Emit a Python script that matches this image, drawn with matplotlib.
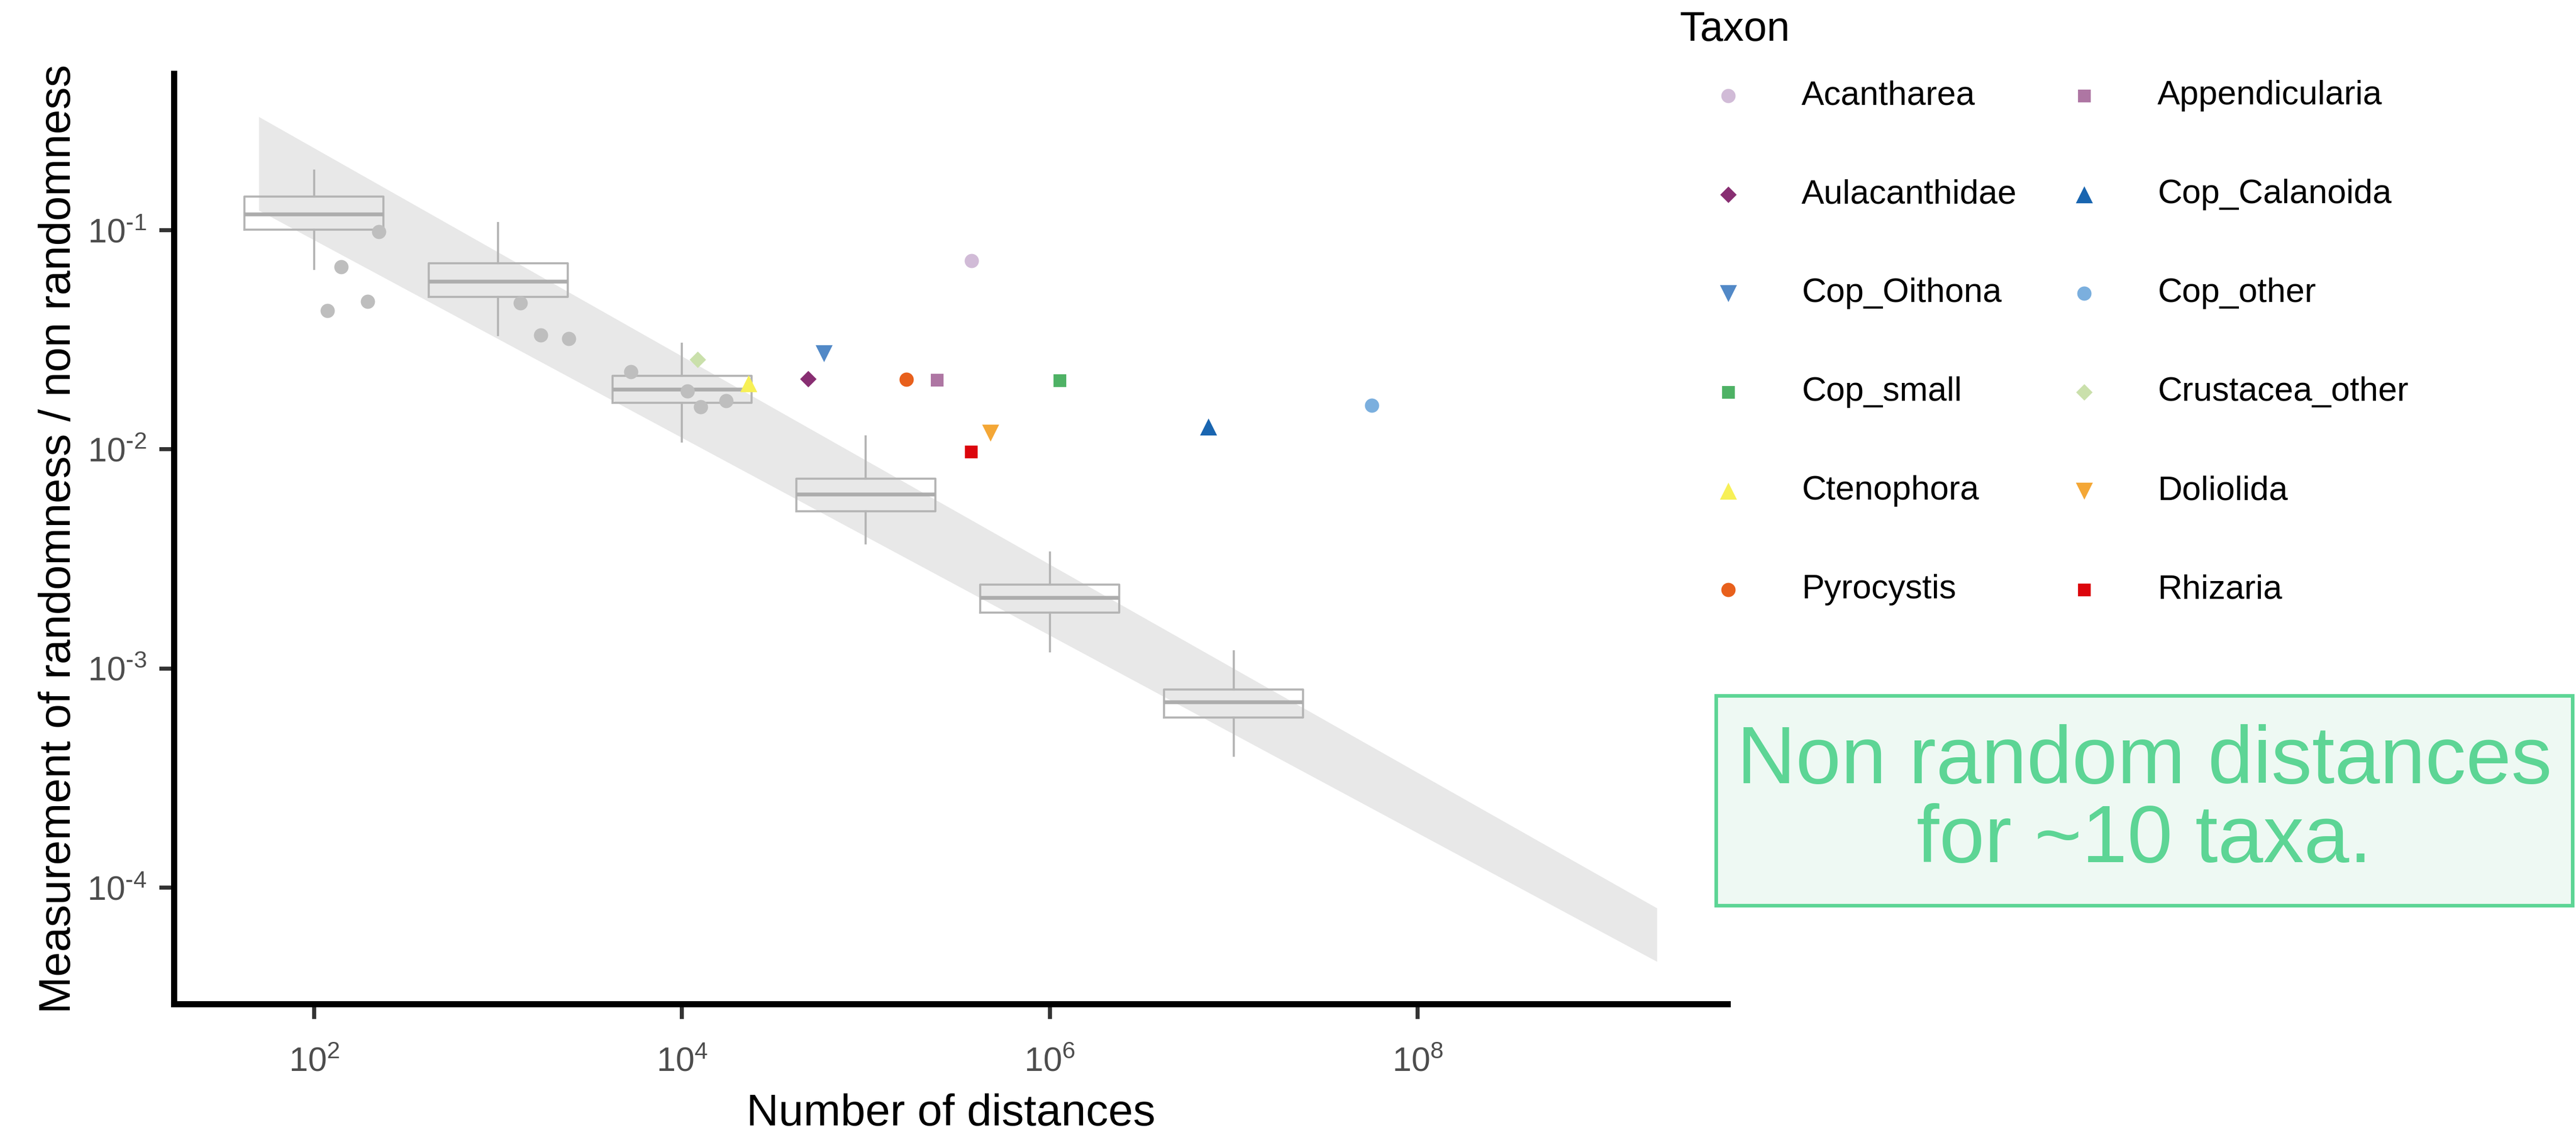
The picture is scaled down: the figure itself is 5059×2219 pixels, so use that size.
import matplotlib
matplotlib.use("Agg")

import matplotlib.pyplot as plt
import numpy as np
from matplotlib.patches import Rectangle
from matplotlib.ticker import FuncFormatter, NullLocator


# --------------------------------------------------
# FONTS
# --------------------------------------------------

plt.rcParams["font.family"] = ["Liberation Sans", "DejaVu Sans"]
plt.rcParams["axes.unicode_minus"] = False
plt.rcParams["mathtext.fontset"] = "custom"
plt.rcParams["mathtext.rm"] = "Liberation Sans"
plt.rcParams["mathtext.it"] = "Liberation Sans:italic"
plt.rcParams["mathtext.bf"] = "Liberation Sans:bold"


# --------------------------------------------------
# DATA
# --------------------------------------------------

taxa = [
    "Acantharea", "Appendicularia",
    "Aulacanthidae", "Cop_Calanoida",
    "Cop_Oithona", "Cop_other",
    "Cop_small", "Crustacea_other",
    "Ctenophora", "Doliolida",
    "Pyrocystis", "Rhizaria",
]
taxa_n = [
    3.75e5, 2.44e5,
    4.86e4, 7.28e6,
    5.9e4, 5.62e7,
    1.13e6, 1.22e4,
    2.30e4, 4.75e5,
    1.66e5, 3.72e5,
]
taxa_value = [
    0.0724, 0.0208,
    0.0210, 0.0127,
    0.0274, 0.0159,
    0.0206, 0.0257,
    0.0200, 0.0119,
    0.0209, 0.00977,
]
taxa_colours = [
    "#D1BBD7", "#AE76A3",
    "#882E72", "#1965B0",
    "#5289C7", "#7BAFDE",
    "#4EB265", "#CAE0AB",
    "#F7F056", "#F4A736",
    "#E8601C", "#DC050C",
]
taxa_markers = ["o", "s", "D", "^", "v"] * 2 + ["o", "s"]

# taxa without a significant signal (grey points)
other_n = [118, 140, 196, 225, 1321, 1706, 2432, 5284, 10690, 12620, 17380]
other_value = [0.0430, 0.0682, 0.0473, 0.0984, 0.0466, 0.0333, 0.0320,
               0.0226, 0.0184, 0.0156, 0.0167]

# boxplots of random expectation
box_n = [1e2, 1e3, 1e4, 1e5, 1e6, 1e7]
box_whislo = [0.0667, 0.0333, 0.01086, 0.003724, 0.001199, 0.000401]
box_q1 = [0.1005, 0.0497, 0.01633, 0.005212, 0.001799, 0.000598]
box_med = [0.1183, 0.0582, 0.01875, 0.006237, 0.002099, 0.000700]
box_q3 = [0.1426, 0.0706, 0.02168, 0.007345, 0.002415, 0.000802]
box_whishi = [0.1871, 0.1079, 0.03027, 0.01148, 0.003381, 0.001197]

# grey band
ribbon_n = [50, 2e9]
ribbon_low = [0.1233, 4.60e-5]
ribbon_high = [0.3296, 8.07e-5]


# --------------------------------------------------
# FIGURE
# --------------------------------------------------

fig = plt.figure(figsize=(5059 / 300, 2219 / 300), dpi=300)

rect = [342 / 5059, 1 - 1972 / 2219, 3051 / 5059, 1827 / 2219]
x_limits = (10 ** 1.239, 10 ** 9.686)
y_limits = (10 ** -4.532, 10 ** -0.2865)

# back layer: band and boxes, x in decades
ax_box = fig.add_axes(rect)
ax_box.set_yscale("log")
ax_box.set_ylim(*y_limits)
ax_box.set_xlim(np.log10(x_limits[0]), np.log10(x_limits[1]))

ax_box.fill_between(
    np.log10(ribbon_n),
    ribbon_low,
    ribbon_high,
    color="#e8e8e8",
    linewidth=0,
)

box_stats = [
    dict(whislo=lo, q1=a, med=m, q3=b, whishi=hi, fliers=[])
    for lo, a, m, b, hi in zip(box_whislo, box_q1, box_med, box_q3, box_whishi)
]
ax_box.bxp(
    box_stats,
    positions=np.log10(box_n),
    widths=0.756,
    showcaps=False,
    showfliers=False,
    manage_ticks=False,
    boxprops=dict(color="#b5b5b5", linewidth=1.0),
    whiskerprops=dict(color="#b5b5b5", linewidth=1.0),
    medianprops=dict(color="#adadad", linewidth=1.8),
)
ax_box.axis("off")

# front layer: points and axes
ax = fig.add_axes(rect, sharey=ax_box)
ax.set_zorder(ax_box.get_zorder() + 1)
ax.patch.set_visible(False)
ax.set_xscale("log")
ax.set_xlim(*x_limits)

ax.scatter(other_n, other_value, s=45, color="#bebebe", linewidth=0)

marker_size = {"o": 45, "s": 36, "D": 30, "^": 64, "v": 64}
handles = {}
for name, n, v, c, m in zip(taxa, taxa_n, taxa_value, taxa_colours, taxa_markers):
    handles[name] = ax.scatter(
        [n], [v], marker=m, s=marker_size[m], color=c, linewidth=0, label=name
    )


# --------------------------------------------------
# AXES STYLE
# --------------------------------------------------

for side in ["top", "right"]:
    ax.spines[side].set_visible(False)
for side in ["left", "bottom"]:
    ax.spines[side].set_linewidth(2.9)
    ax.spines[side].set_color("black")


def power_label(value, pos):
    exponent = int(round(np.log10(value)))
    if exponent < 0:
        return r"$\mathdefault{10^{\text{-}%d}}$" % (-exponent)
    return r"$\mathdefault{10^{%d}}$" % exponent


ax.set_xticks([1e2, 1e4, 1e6, 1e8])
ax.set_yticks([1e-4, 1e-3, 1e-2, 1e-1])
ax.xaxis.set_minor_locator(NullLocator())
ax.yaxis.set_minor_locator(NullLocator())
ax.xaxis.set_major_formatter(FuncFormatter(power_label))
ax.yaxis.set_major_formatter(FuncFormatter(power_label))
ax.tick_params(
    which="major",
    length=7,
    width=1.9,
    color="#333333",
    labelcolor="#4d4d4d",
    labelsize=16,
)
ax.tick_params(axis="x", pad=13)
ax.tick_params(axis="y", pad=6)

ax.set_xlabel("Number of distances", fontsize=21)
ax.set_ylabel("Measurement of randomness / non randomness", fontsize=21)
ax.xaxis.set_label_coords(0.5, -0.096)
ax.xaxis.label.set_verticalalignment("top")
ax.yaxis.set_label_coords(-0.061, 0.5)


# --------------------------------------------------
# LEGEND
# --------------------------------------------------

fig.text(3298 / 5059, 1 - 80 / 2219, "Taxon", fontsize=19.5, va="baseline")

order = taxa[0::2] + taxa[1::2]
fig.legend(
    [handles[t] for t in order],
    order,
    loc="center left",
    bbox_to_anchor=(3269 / 5059, 1 - 673 / 2219),
    ncol=2,
    frameon=False,
    fontsize=16,
    borderpad=0,
    handlelength=2.76,
    handletextpad=0.78,
    columnspacing=0.6,
    labelspacing=1.98,
)


# --------------------------------------------------
# ANNOTATION BOX
# --------------------------------------------------

fig.patches.append(
    Rectangle(
        (3370 / 5059, 1 - 1778 / 2219),
        (5052 - 3370) / 5059,
        (1778 - 1366) / 2219,
        transform=fig.transFigure,
        facecolor="#eef9f3",
        edgecolor="#5dd595",
        linewidth=1.7,
    )
)
fig.text(
    4211 / 5059,
    1 - 1574 / 2219,
    "Non random distances\nfor ~10 taxa.",
    ha="center",
    va="center",
    fontsize=38.4,
    color="#5dd595",
    linespacing=1.05,
)

fig.savefig("out.png", dpi=300)
plt.close(fig)
